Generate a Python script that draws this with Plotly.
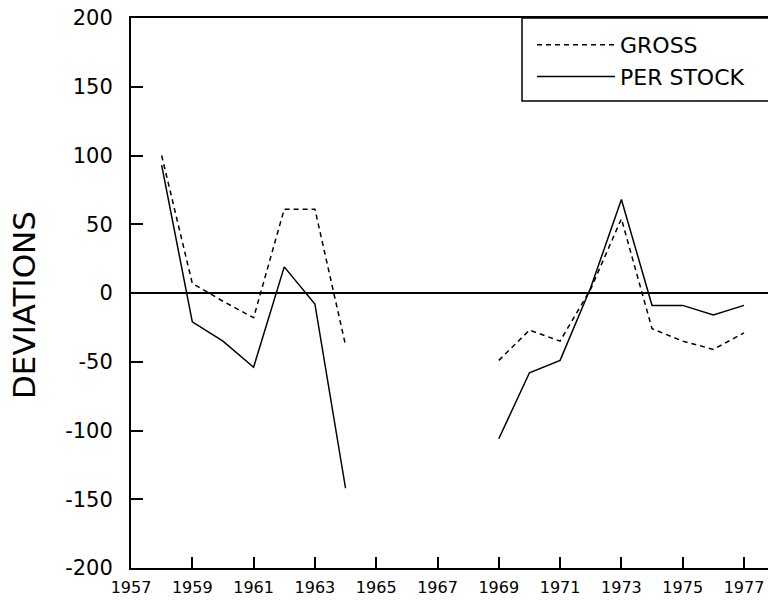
import plotly.graph_objects as go

years_a = [1958, 1959, 1960, 1961, 1962, 1963, 1964]
years_b = [1969, 1970, 1971, 1972, 1973, 1974, 1975, 1976, 1977]
gross_a = [100, 7, -6, -18, 61, 61, -38]
gross_b = [-49, -27, -35, 3, 54, -26, -35, -41, -29]
stock_a = [93, -21, -35, -54, 19, -8, -142]
stock_b = [-106, -58, -49, 4, 68, -9, -9, -16, -9]
x_ticks = list(range(1957, 1978, 2))
y_ticks = [-200, -150, -100, -50, 0, 50, 100, 150, 200]

years = years_a + [None] + years_b
gross = gross_a + [None] + gross_b
stock = stock_a + [None] + stock_b

fig = go.Figure()
fig.add_trace(go.Scatter(x=years, y=gross, mode="lines", name="GROSS",
                         legendgroup="g",
                         line=dict(color="black", width=1.5, dash="5px,4px"),
                         connectgaps=False))
fig.add_trace(go.Scatter(x=years, y=stock, mode="lines", name="PER STOCK",
                         legendgroup="s",
                         line=dict(color="black", width=1.5),
                         connectgaps=False))

font_family = "DejaVu Sans, Liberation Sans, sans-serif"
L, R, T, B = 131, 0, 18, 32
W, H = 768, 600
pw, ph = W - L - R, H - T - B

fig.update_layout(
    width=W, height=H,
    margin=dict(l=L, r=R, t=T, b=B),
    paper_bgcolor="white", plot_bgcolor="white",
    font=dict(family=font_family, color="black"),
    showlegend=True,
    legend=dict(x=(532 - L) / pw, y=1 - 6 / ph, xanchor="left", yanchor="top",
                borderwidth=0, bgcolor="rgba(0,0,0,0)",
                font=dict(size=22, family=font_family), itemwidth=78,
                tracegroupgap=0),
    shapes=[dict(type="rect", xref="paper", yref="paper",
                 x0=(522 - L) / pw, x1=1.05, y0=(H - B - 101) / ph, y1=1.0,
                 line=dict(color="black", width=1.5), fillcolor="white",
                 layer="below")],
    annotations=[dict(text="DEVIATIONS", xref="paper", yref="paper",
                      x=(24 - L) / pw, y=(H - B - 305) / ph,
                      xanchor="center", yanchor="middle", textangle=-90,
                      showarrow=False, font=dict(size=31, family=font_family))],
    xaxis=dict(range=[1957, 1957 + pw / 30.65], tickvals=x_ticks,
               ticktext=[str(v) for v in x_ticks],
               ticks="inside", ticklen=11, tickwidth=1.5, tickcolor="black",
               showline=True, linecolor="black", linewidth=2, mirror=True,
               showgrid=False, zeroline=False, ticklabelstandoff=4,
               tickfont=dict(size=16)),
    yaxis=dict(range=[-200, 200], tickvals=y_ticks,
               ticktext=[str(v) for v in y_ticks],
               ticks="inside", ticklen=12, tickwidth=1.5, tickcolor="black",
               showline=True, linecolor="black", linewidth=2,
               showgrid=False, zeroline=True, zerolinecolor="black", zerolinewidth=1.5,
               ticklabelstandoff=12,
               tickfont=dict(size=21)),
)

fig.write_html("out.html")
